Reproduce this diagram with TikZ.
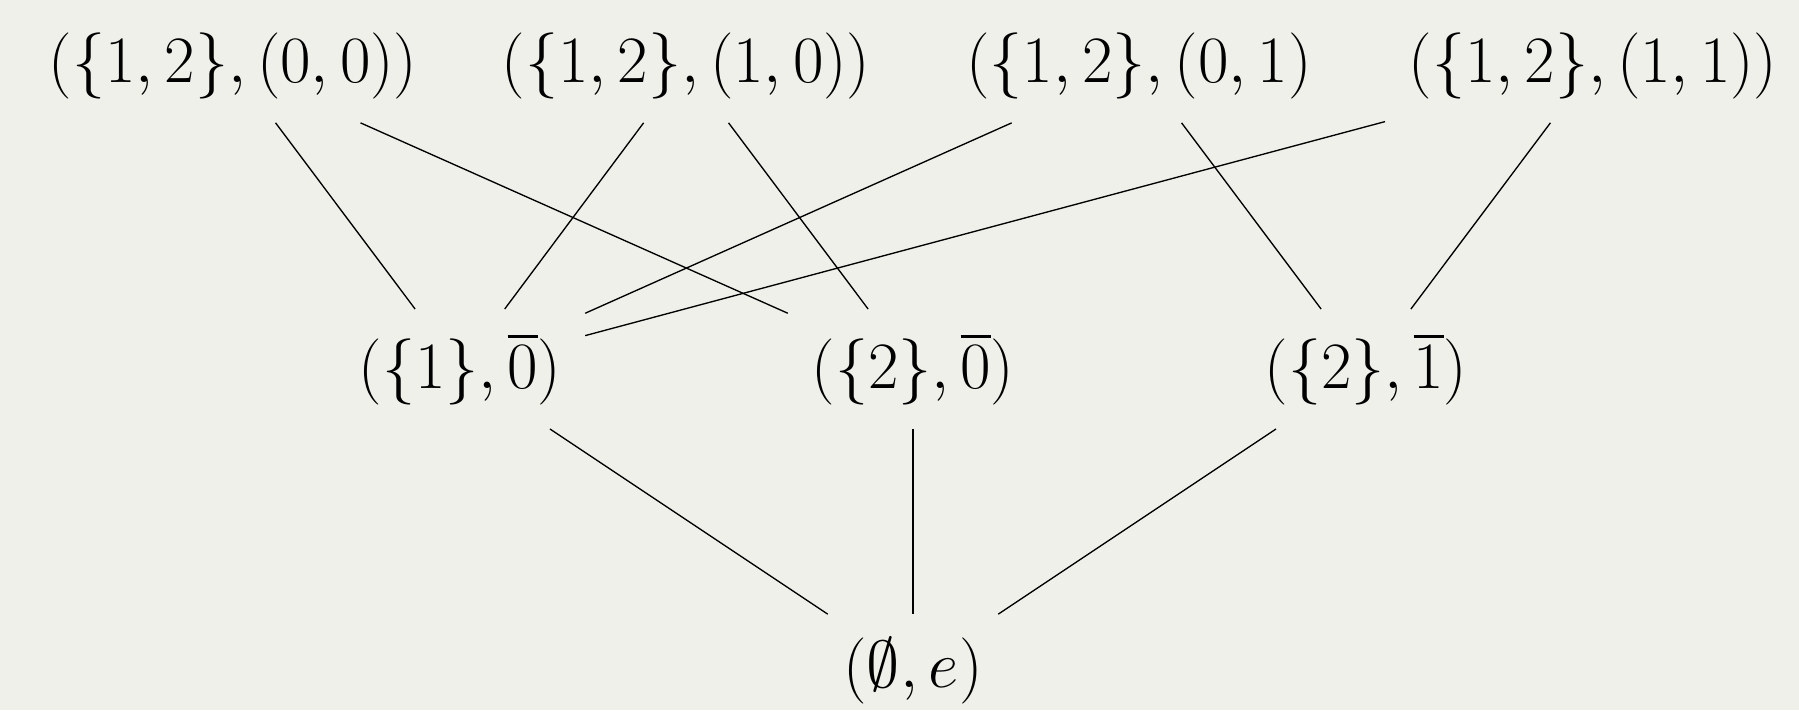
\documentclass[tikz,border=0pt]{standalone}
\usepackage{amssymb}
\definecolor{bg}{RGB}{239,240,234}
\begin{document}
\begin{tikzpicture}[x=0.261pt,y=-0.261pt,
  lbl/.style={inner sep=5.9pt, outer sep=0.3pt, font=\LARGE},
  edge/.style={line width=0.35pt, black}]
\fill[bg] (0,0) rectangle (1799,710);
\useasboundingbox (0,0) rectangle (1799,710);
\node[lbl] (t1) at (233,66) {$(\{1,2\},(0,0))$};
\node[lbl] (t2) at (686,66) {$(\{1,2\},(1,0))$};
\node[lbl] (t3) at (1139,66) {$(\{1,2\},(0,1)$};
\node[lbl] (t4) at (1593,66) {$(\{1,2\},(1,1))$};
\node[lbl] (m1) at (460,369) {$(\{1\},\overline{0})$};
\node[lbl] (m2) at (913,369) {$(\{2\},\overline{0})$};
\node[lbl] (m3) at (1366,369) {$(\{2\},\overline{1})$};
\node[lbl] (b) at (913,671) {$(\emptyset,e)$};
\draw[edge] (t1) -- (m1);
\draw[edge] (t1) -- (m2);
\draw[edge] (t2) -- (m1);
\draw[edge] (t2) -- (m2);
\draw[edge] (t3) -- (m1);
\draw[edge] (t3) -- (m3);
\draw[edge] (t4) -- (m1);
\draw[edge] (t4) -- (m3);
\draw[edge] (m1) -- (b);
\draw[edge] (m2) -- (b);
\draw[edge] (m3) -- (b);
\end{tikzpicture}
\end{document}
